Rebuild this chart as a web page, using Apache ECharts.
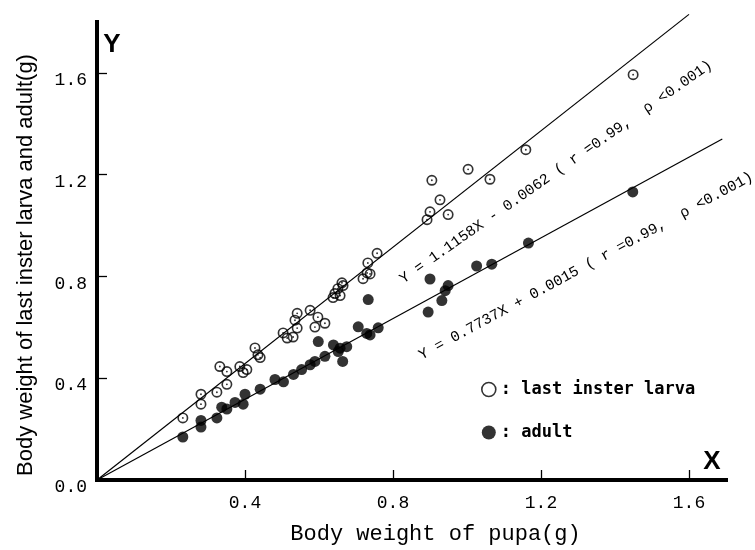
<!DOCTYPE html>
<html>
<head>
<meta charset="utf-8">
<script src="https://cdn.jsdelivr.net/npm/echarts@6/dist/echarts.min.js"></script>
<style>html,body{margin:0;padding:0;background:#fff}#c{width:755px;height:550px}</style>
</head>
<body>
<div id="c"></div>
<script>
// ---- data ----
const larvaPupa  = [0.232,0.281,0.281,0.324,0.351,0.332,0.351,0.386,0.405,0.395,0.427,0.435,0.441,0.503,0.514,0.530,0.541,0.535,0.541,0.576,0.597,0.589,0.616,0.638,0.657,0.662,0.651,0.643,0.665,0.732,0.730,0.719,0.738,0.757,0.905,0.927,0.900,0.892,0.949,1.003,1.062,1.159,1.449];
const larvaWeight= [0.244,0.337,0.298,0.345,0.376,0.446,0.426,0.446,0.434,0.422,0.519,0.492,0.481,0.578,0.558,0.562,0.597,0.628,0.655,0.667,0.640,0.601,0.616,0.717,0.725,0.775,0.752,0.733,0.764,0.853,0.814,0.791,0.810,0.891,1.178,1.101,1.054,1.023,1.043,1.221,1.182,1.298,1.593];
const adultPupa  = [0.232,0.281,0.281,0.324,0.337,0.351,0.373,0.395,0.400,0.441,0.481,0.504,0.531,0.553,0.576,0.589,0.616,0.598,0.639,0.657,0.675,0.652,0.664,0.706,0.729,0.738,0.760,0.733,1.026,0.900,0.949,0.941,0.932,0.895,1.448,1.166,1.067];
const adultWeight= [0.169,0.208,0.234,0.244,0.286,0.279,0.305,0.298,0.337,0.357,0.395,0.386,0.415,0.434,0.453,0.466,0.486,0.544,0.531,0.518,0.524,0.505,0.466,0.602,0.576,0.570,0.598,0.709,0.841,0.790,0.764,0.744,0.705,0.660,1.132,0.931,0.848];
// regression line end points
const larvaLineX = [0, 1.60];
const larvaLineY = [0, 1.83];
const adultLineX = [0, 1.69];
const adultLineY = [0, 1.34];
const xTicks = [0.4, 0.8, 1.2, 1.6];
const yTicks = [0.4, 0.8, 1.2, 1.6];
const yLabels = [0, 0.4, 0.8, 1.2, 1.6];
const larvaName = 'last inster larva';
const adultName = 'adult';
const eq1 = 'Y = 1.1158X - 0.0062 ( r =0.99,  \u03C1 <0.001)';
const eq2 = 'Y = 0.7737X + 0.0015 ( r =0.99,  \u03C1 <0.001)';
const xTitle = 'Body weight of pupa(g)';
const yTitle = 'Body weight of last inster larva and adult(g)';

// ---- chart ----
const zip = (a, b) => a.map((v, i) => [v, b[i]]);
const ringDot = 'path://M0,10A10,10 0 1,1 20,10A10,10 0 1,1 0,10Z M3,10A7,7 0 1,0 17,10A7,7 0 1,0 3,10Z M8.3,10A1.7,1.7 0 1,1 11.7,10A1.7,1.7 0 1,1 8.3,10Z';
const mono = '"Liberation Mono", "DejaVu Sans Mono", monospace';

const chart = echarts.init(document.getElementById('c'), null, {renderer: 'canvas'});
chart.setOption({
  animation: false,
  backgroundColor: '#fff',
  grid: {left: 97, right: 29, top: 22, bottom: 63, containLabel: false},
  xAxis: {
    type: 'value', min: 0, max: 1.7, interval: 0.4,
    name: xTitle, nameLocation: 'middle', nameGap: 43,
    nameTextStyle: {fontFamily: mono, fontSize: 22, color: '#000', padding: [0, 0, 0, 48]},
    axisLine: {show: true, onZero: false, lineStyle: {color: '#000', width: 4, cap: 'square'}},
    axisTick: {show: true, inside: true, length: 10, customValues: xTicks, lineStyle: {color: '#000', width: 1.3}},
    axisLabel: {customValues: xTicks, margin: 14, fontFamily: mono, fontSize: 18, color: '#000', formatter: v => v.toFixed(1)},
    splitLine: {show: false}
  },
  yAxis: {
    type: 'value', min: 0, max: 1.8, interval: 0.4,
    name: yTitle, nameLocation: 'middle', nameGap: 60, nameRotate: 90,
    nameTextStyle: {fontFamily: '"Liberation Sans", Arial, sans-serif', fontSize: 22, color: '#000', padding: [0, 28, 0, 0]},
    axisLine: {show: true, onZero: false, lineStyle: {color: '#000', width: 4, cap: 'square'}},
    axisTick: {show: true, inside: true, length: 10, customValues: yTicks, lineStyle: {color: '#000', width: 1.3}},
    axisLabel: {customValues: yLabels, margin: 10, verticalAlign: 'top', lineHeight: 15, fontFamily: mono, fontSize: 18, color: '#000', formatter: v => v.toFixed(1)},
    splitLine: {show: false}
  },
  legend: {
    orient: 'vertical', left: 476, top: 376, itemGap: 26, itemWidth: 14, itemHeight: 14,
    data: [
      {name: larvaName, icon: 'circle', itemStyle: {color: '#fff', borderColor: '#000', borderWidth: 1.6}},
      {name: adultName, icon: 'circle', itemStyle: {color: '#000'}}
    ],
    formatter: n => ': ' + n,
    textStyle: {fontFamily: '"DejaVu Sans Mono", monospace', fontWeight: 'bold', fontSize: 17, color: '#000'}
  },
  series: [
    {type: 'line', data: zip(larvaLineX, larvaLineY), symbol: 'none', clip: false, silent: true,
     lineStyle: {color: '#000', width: 1.2}, z: 2},
    {type: 'line', data: zip(adultLineX, adultLineY), symbol: 'none', clip: false, silent: true,
     lineStyle: {color: '#000', width: 1.2}, z: 2},
    {name: larvaName, type: 'scatter', data: zip(larvaPupa, larvaWeight), symbol: ringDot, symbolSize: 11,
     itemStyle: {color: '#000'}, z: 3},
    {name: adultName, type: 'scatter', data: zip(adultPupa, adultWeight), symbol: 'circle', symbolSize: 11,
     itemStyle: {color: '#000'}, z: 3}
  ],
  graphic: [
    {type: 'text', x: 112, y: 45, style: {text: 'Y', fontFamily: '"Liberation Sans Narrow", "Liberation Sans", sans-serif', fontWeight: 'bold', fontSize: 26, fill: '#000', align: 'center', verticalAlign: 'middle'}},
    {type: 'text', x: 712, y: 462, style: {text: 'X', fontFamily: '"Liberation Sans Narrow", "Liberation Sans", sans-serif', fontWeight: 'bold', fontSize: 26, fill: '#000', align: 'center', verticalAlign: 'middle'}},
    {type: 'text', x: 556, y: 172, rotation: 35 * Math.PI / 180, style: {text: eq1, fontFamily: mono, fontSize: 15, fill: '#000', align: 'center', verticalAlign: 'middle'}},
    {type: 'text', x: 586, y: 266, rotation: 28.5 * Math.PI / 180, style: {text: eq2, fontFamily: mono, fontSize: 15, fill: '#000', align: 'center', verticalAlign: 'middle'}}
  ]
});
</script>
</body>
</html>
